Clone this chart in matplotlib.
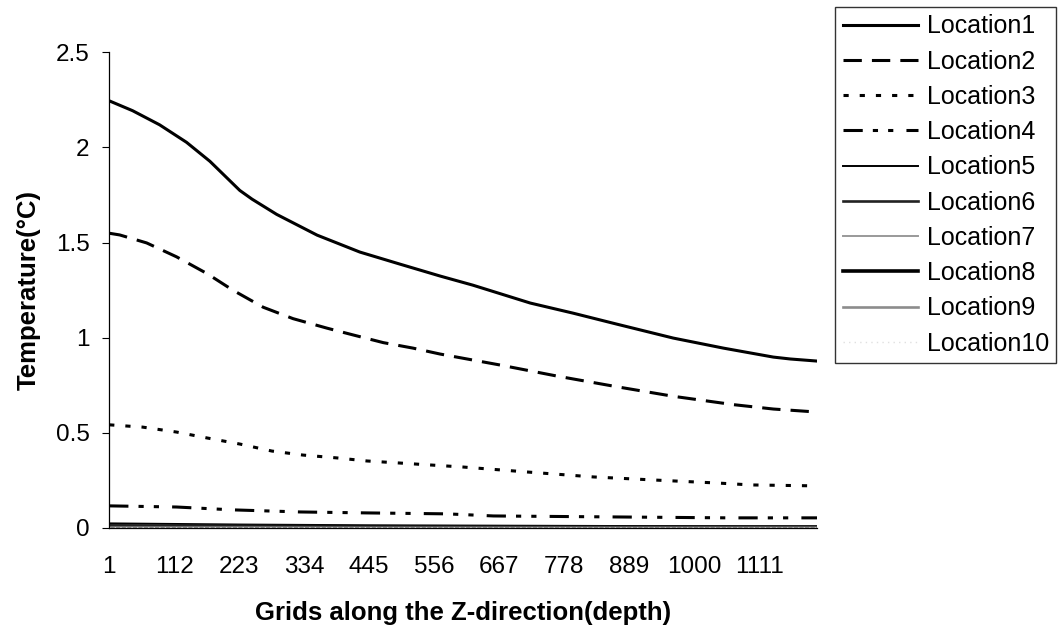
import matplotlib.pyplot as plt

plt.rcParams['font.family'] = ['Liberation Sans', 'DejaVu Sans']

# grid index along the depth direction, one list per location
depth1 = [1, 41, 87, 133, 173, 202, 224, 245, 287, 356, 429, 497, 566, 622,
          720, 793, 868, 964, 1050, 1135, 1164, 1210]
loc1 = [2.245, 2.193, 2.119, 2.027, 1.927, 1.840, 1.774, 1.728, 1.648, 1.539, 1.450, 1.387,
        1.324, 1.276, 1.182, 1.129, 1.071, 0.998, 0.945, 0.898, 0.888, 0.877]

depth2 = [1, 19, 65, 116, 168, 212, 264, 315, 373, 418, 469, 520, 566, 669,
          766, 868, 964, 1067, 1135, 1210]
loc2 = [1.549, 1.540, 1.498, 1.425, 1.337, 1.250, 1.160, 1.100, 1.050, 1.014, 0.974, 0.945,
        0.914, 0.856, 0.798, 0.742, 0.692, 0.648, 0.625, 0.609]

depth3 = [1, 58, 116, 168, 224, 279, 332, 390, 441, 498, 549, 606, 715, 828,
          931, 1040, 1097, 1210]
loc3 = [0.542, 0.530, 0.504, 0.473, 0.441, 0.404, 0.383, 0.368, 0.352, 0.341, 0.331, 0.320,
        0.294, 0.268, 0.252, 0.236, 0.226, 0.221]

depth4 = [1, 116, 212, 327, 441, 578, 657, 857, 1057, 1210]
loc4 = [0.116, 0.110, 0.095, 0.084, 0.079, 0.074, 0.063, 0.058, 0.053, 0.053]

# the deeper locations stay close to zero
depth_low = [1, 223, 445, 667, 889, 1111, 1210]
loc5 = [0.024, 0.018, 0.014, 0.012, 0.010, 0.009, 0.009]
loc6 = [0.014, 0.011, 0.009, 0.007, 0.006, 0.006, 0.006]
loc7 = [0.008, 0.006, 0.005, 0.004, 0.004, 0.003, 0.003]
loc8 = [0.004, 0.003, 0.003, 0.002, 0.002, 0.002, 0.002]
loc9 = [0.002, 0.002, 0.001, 0.001, 0.001, 0.001, 0.001]
loc10 = [0.001, 0.001, 0.001, 0.0, 0.0, 0.0, 0.0]

xticks = [1, 112, 223, 334, 445, 556, 667, 778, 889, 1000, 1111]
yticks = [0, 0.5, 1, 1.5, 2, 2.5]
ytick_labels = ['0', '0.5', '1', '1.5', '2', '2.5']

fig = plt.figure(figsize=(10.6, 6.3), dpi=100)
ax = fig.add_axes([0.103, 0.162, 0.668, 0.755])

ax.plot(depth1, loc1, color='black', lw=2.2, label='Location1')
ax.plot(depth2, loc2, color='black', lw=2.2, dashes=(6, 3.3), label='Location2')
ax.plot(depth3, loc3, color='black', lw=2.2, dashes=(1.7, 3.6), label='Location3')
ax.plot(depth4, loc4, color='black', lw=2.2, dashes=(6.3, 3.3, 1.7, 3.3, 1.7, 4.3), label='Location4')
ax.plot(depth_low, loc5, color='black', lw=1.4, label='Location5')
ax.plot(depth_low, loc6, color='#222222', lw=1.9, label='Location6')
ax.plot(depth_low, loc7, color='#999999', lw=1.4, label='Location7')
ax.plot(depth_low, loc8, color='black', lw=2.6, label='Location8')
ax.plot(depth_low, loc9, color='#8c8c8c', lw=1.9, label='Location9')
ax.plot(depth_low, loc10, color='#e0e0e0', lw=1.0, dashes=(1, 3), label='Location10')

ax.set_xlim(1, 1210)
ax.set_ylim(0, 2.5)
ax.set_xticks(xticks)
ax.set_xticklabels([str(t) for t in xticks])
ax.set_yticks(yticks)
ax.set_yticklabels(ytick_labels)

ax.tick_params(axis='x', length=0, pad=20, labelsize=17.5)
ax.tick_params(axis='y', length=5, width=0.8, direction='out', pad=9, labelsize=17.5)
for side in ['top', 'right']:
    ax.spines[side].set_visible(False)
ax.spines['left'].set_linewidth(0.9)
ax.spines['bottom'].set_linewidth(0.9)

ax.set_xlabel('Grids along the Z-direction(depth)', fontsize=18.5, fontweight='bold', labelpad=17)
ax.set_ylabel('Temperature(°C)', fontsize=18.5, fontweight='bold', labelpad=11)

leg = ax.legend(loc='upper left', bbox_to_anchor=(0.788, 0.989), bbox_transform=fig.transFigure,
                fontsize=18, frameon=True, fancybox=False, edgecolor='black',
                handlelength=3.0, handletextpad=0.35, labelspacing=0.45,
                borderpad=0.3, borderaxespad=0)
leg.get_frame().set_linewidth(1.0)

fig.savefig('out.png', dpi=100)
